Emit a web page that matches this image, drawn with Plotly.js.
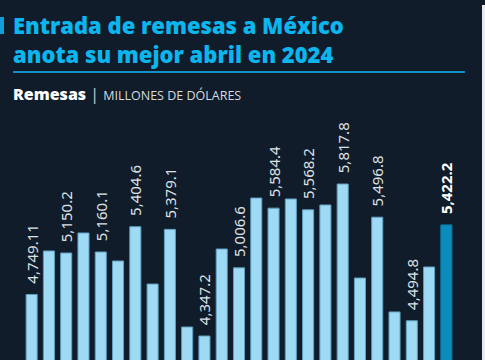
<!DOCTYPE html>
<html>
<head>
<meta charset="utf-8">
<script src="https://cdn.plot.ly/plotly-3.0.1.min.js"></script>
<style>
html,body{margin:0;padding:0;background:#111c2a;}
#chart{width:485px;height:360px;}
</style>
</head>
<body>
<div id="chart"></div>
<script>
var months = ["abr-22","may-22","jun-22","jul-22","ago-22","sep-22","oct-22","nov-22","dic-22",
  "ene-23","feb-23","mar-23","abr-23","may-23","jun-23","jul-23","ago-23","sep-23","oct-23",
  "nov-23","dic-23","ene-24","feb-24","mar-24","abr-24"];
var remesas = [4749.11,5170,5150.2,5344,5160.1,5073,5404.6,4850,5379.1,4434,4347.2,5189,5006.6,
  5682,5584.4,5673,5568.2,5615,5817.8,4908,5496.8,4580,4494.8,5015,5422.2];
var labelled = [true,false,true,false,true,false,true,false,true,false,true,false,true,false,
  true,false,true,false,true,false,true,false,true,false,true];

var n = remesas.length;
var texts = remesas.map(function(v,i){
  if(!labelled[i]) return "";
  var s = v.toLocaleString("en-US",{minimumFractionDigits:1,maximumFractionDigits:2});
  return "\u00a0\u00a0" + (i===n-1 ? "<b>"+s+"</b>" : s);
});
var fill = remesas.map(function(v,i){return i===n-1 ? "#0a8cbd" : "#9fdaf5";});
var edge = remesas.map(function(v,i){return i===n-1 ? "#0a7aa6" : "#5f9fc0";});
var tcol = remesas.map(function(v,i){return i===n-1 ? "#ffffff" : "#dde1e5";});

var trace = {
  type:"bar", x:months, y:remesas, text:texts,
  textposition:"outside", textangle:-90, constraintext:"none", cliponaxis:false,
  textfont:{family:"Noto Sans", size:15, color:tcol},
  marker:{color:fill, line:{color:edge, width:1}},
  hoverinfo:"x+y"
};

var layout = {
  width:485, height:360,
  paper_bgcolor:"#111c2a", plot_bgcolor:"#111c2a",
  margin:{l:23, r:30, t:110, b:0, pad:0},
  bargap:0.36,
  showlegend:false,
  xaxis:{type:"category", showticklabels:false, showgrid:false, zeroline:false, showline:false, ticks:"", range:[-0.5,24.5], fixedrange:true},
  yaxis:{range:[4115,6534], showticklabels:false, showgrid:false, zeroline:false, showline:false, ticks:"", fixedrange:true},
  annotations:[
    {xref:"paper", yref:"paper", x:-0.028, y:1.283, xanchor:"left", yanchor:"middle", showarrow:false, align:"left",
     text:"Entrada de remesas a México<br>anota su mejor abril en 2024",
     font:{family:"Open Sans", size:22, color:"#0bb6ee", weight:800}},
    {xref:"paper", yref:"paper", x:-0.028, y:1.064, xanchor:"left", yanchor:"middle", showarrow:false,
     text:"<span style='font-weight:800'>Remesas</span><span style='color:#c9ced4;font-weight:400'> | </span><span style='font-size:12.5px;color:#d6dade;font-weight:400'>MILLONES DE DÓLARES</span>",
     font:{family:"Open Sans", size:16, color:"#ffffff"}}
  ],
  shapes:[
    {type:"rect", xref:"paper", yref:"paper", x0:-0.0532, x1:-0.0440, y0:1.304, y1:1.372, fillcolor:"#0fa0d8", line:{width:0}},
    {type:"line", xref:"paper", yref:"paper", x0:-0.023, x1:1.023, y0:1.152, y1:1.152, line:{color:"#1191c5", width:2}},
    {type:"rect", xref:"paper", yref:"paper", x0:1.0625, x1:1.07, y0:0, y1:1.42, fillcolor:"#e8eaec", line:{width:0}}
  ]
};

Plotly.newPlot("chart",[trace],layout,{displayModeBar:false, staticPlot:true});
</script>
</body>
</html>
